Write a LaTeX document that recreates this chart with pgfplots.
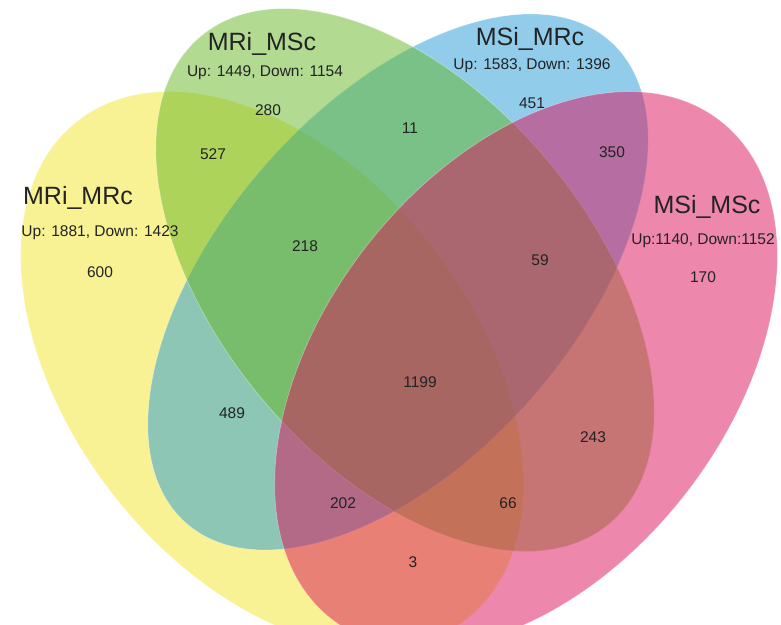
\documentclass[border=0pt]{standalone}
\usepackage{fontspec}
\setmainfont{Liberation Sans}
\usepackage{pgfplots}
\pgfplotsset{compat=1.18}

\definecolor{setA}{RGB}{241,229,41}
\definecolor{setB}{RGB}{101,181,35}
\definecolor{setC}{RGB}{35,155,215}
\definecolor{setD}{RGB}{219,15,89}
\definecolor{txt}{RGB}{35,35,35}

\newcommand{\titlefont}{\fontsize{25}{30}\selectfont}
\newcommand{\subfont}{\fontsize{15.5}{18}\selectfont}

\tikzset{vennset/.style={fill=#1, fill opacity=0.5, draw=white, draw opacity=0.35, line width=0.7pt}}

\begin{document}
\begin{tikzpicture}
\begin{axis}[
  scale only axis, width=781pt, height=624pt,
  xmin=0, xmax=781, ymin=0, ymax=624,
  hide axis, clip=true,
]
% four overlapping sets, drawn as translucent ellipses
\filldraw[vennset=setA, rotate around={-52:(axis cs:272,254)}]
  (axis cs:272,254) ellipse [x radius=316, y radius=202];
\filldraw[vennset=setC, rotate around={48.7:(axis cs:398,342)}]
  (axis cs:398,342) ellipse [x radius=321, y radius=177];
\filldraw[vennset=setB, rotate around={-50:(axis cs:405,344)}]
  (axis cs:405,344) ellipse [x radius=318, y radius=186];
\filldraw[vennset=setD, rotate around={52:(axis cs:526,254)}]
  (axis cs:526,254) ellipse [x radius=316, y radius=202];

% region counts
\addplot[only marks, mark=none, nodes near coords, point meta=explicit symbolic,
  nodes near coords style={font=\subfont, text=txt, anchor=center}]
  table[meta=label] {
x   y   label
100 352 600
268 514 280
532 521 451
703 347 170
213 470 527
410 496 11
612 472 350
232 211 489
593 187 243
413  62 3
305 378 218
540 364 59
343 121 202
508 121 66
420 242 1199
};

% set names and up/down totals
\node[font=\titlefont, text=txt] at (axis cs:78,426) {MRi\_MRc};
\node[font=\subfont, text=txt] at (axis cs:100,391) {Up: 1881, Down: 1423};
\node[font=\titlefont, text=txt] at (axis cs:262,580) {MRi\_MSc};
\node[font=\subfont, text=txt] at (axis cs:265,551) {Up: 1449, Down: 1154};
\node[font=\titlefont, text=txt] at (axis cs:530,585) {MSi\_MRc};
\node[font=\subfont, text=txt] at (axis cs:532,558) {Up: 1583, Down: 1396};
\node[font=\titlefont, text=txt] at (axis cs:707,417) {MSi\_MSc};
\node[font=\subfont, text=txt] at (axis cs:703,383) {Up:1140, Down:1152};
\end{axis}
\end{tikzpicture}
\end{document}
